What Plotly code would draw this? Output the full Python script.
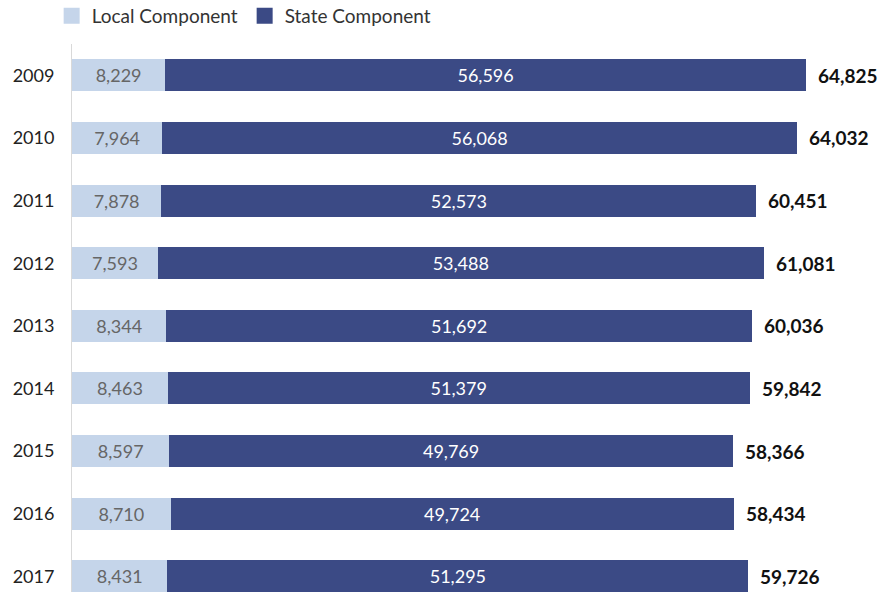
import plotly.graph_objects as go

years = ["2009", "2010", "2011", "2012", "2013", "2014", "2015", "2016", "2017"]
local_vals = [8229, 7964, 7878, 7593, 8344, 8463, 8597, 8710, 8431]
state_vals = [56596, 56068, 52573, 53488, 51692, 51379, 49769, 49724, 51295]
totals = [l + s for l, s in zip(local_vals, state_vals)]

LIGHT = "#c5d5ea"
DARK = "#3b4a85"
FONT = "Lato"

ypos = list(range(len(years)))

fig = go.Figure()
fig.add_trace(go.Bar(
    name="Local Component", y=ypos, x=local_vals, orientation="h",
    marker=dict(color=LIGHT, line=dict(width=0)), width=0.51,
    text=[f"{v:,}" for v in local_vals], textposition="inside",
    insidetextanchor="middle", textfont=dict(color="#666666", size=18, family=FONT),
    hoverinfo="skip", showlegend=False,
))
fig.add_trace(go.Bar(
    name="State Component", y=ypos, x=state_vals, orientation="h",
    marker=dict(color=DARK, line=dict(width=0)), width=0.51,
    text=[f"{v:,}" for v in state_vals], textposition="inside",
    insidetextanchor="middle", textfont=dict(color="white", size=18, family=FONT),
    hoverinfo="skip", showlegend=False,
))
# legend-only entries with larger square swatches
for nm, col in [("Local Component", LIGHT), ("State Component", DARK)]:
    fig.add_trace(go.Scatter(
        x=[None], y=[None], mode="markers", name=nm,
        marker=dict(symbol="square", size=17, color=col), showlegend=True,
    ))

for yv, t in zip(ypos, totals):
    fig.add_annotation(x=t, y=yv, text=f"<b>{t:,}</b>", showarrow=False,
                       xanchor="left", xshift=10,
                       font=dict(size=19, color="#111111", family=FONT))

fig.update_layout(
    width=886, height=592,
    margin=dict(l=72, r=0, t=44, b=0, autoexpand=False),
    barmode="stack",
    plot_bgcolor="white", paper_bgcolor="white",
    font=dict(family=FONT, size=18, color="#222222"),
    uniformtext=dict(minsize=10, mode="show"),
    legend=dict(orientation="h", x=-0.025, y=1 - 16 / 592, yref="container",
                yanchor="middle", xanchor="left",
                font=dict(size=19, color="#333333"), itemwidth=30,
                entrywidth=148, traceorder="normal"),
    showlegend=True,
)
fig.update_xaxes(range=[0, 71890], showgrid=False, zeroline=False,
                 showticklabels=False, showline=False, fixedrange=True)
fig.update_yaxes(range=[8.25, -0.5], tickvals=ypos, ticktext=years,
                 showgrid=False, zeroline=False, showline=True,
                 linecolor="#d9d9d9", linewidth=1, ticks="",
                 ticklabelstandoff=13, tickfont=dict(size=18, color="#222222"))

fig.write_html("out.html")
